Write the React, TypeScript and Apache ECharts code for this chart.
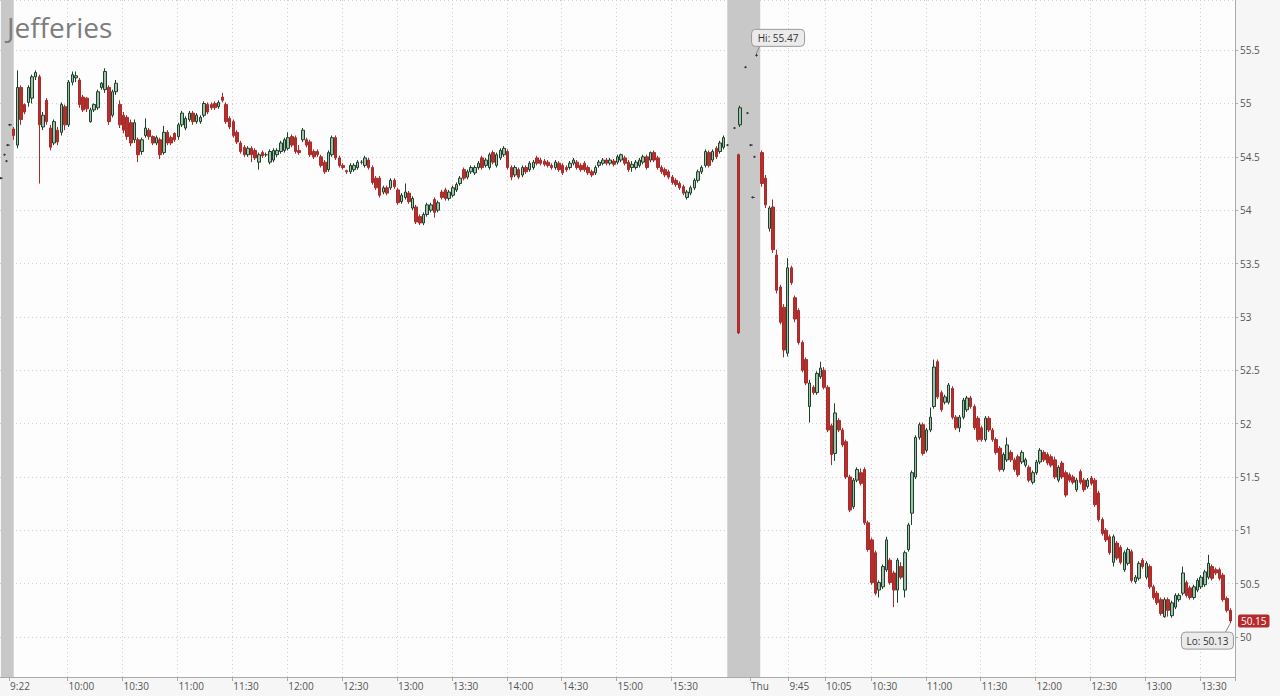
import React, { useEffect, useRef } from "react";
import * as echarts from "echarts";

// ---------- DATA (prices) ----------
// candle format: [open, close, low, high]
const day1PreMarket: [string, number, number, number, number][] = [
  ["9:17", 54.3, 54.3, 54.29, 54.31],
  ["9:19", 54.52, 54.52, 54.51, 54.53],
  ["9:20", 54.46, 54.46, 54.45, 54.47],
  ["9:21", 54.61, 54.61, 54.6, 54.62],
  ["9:22", 54.8, 54.8, 54.79, 54.81],
];

// Wednesday, 2-minute bars from 9:30
const day1Morning: number[][] = [
  [54.76,54.70,54.66,54.78],[54.61,55.15,54.58,55.31],[55.15,54.85,54.80,55.17],[54.99,54.92,54.90,55.00],
  [55.01,55.15,54.97,55.17],[55.05,55.25,55.00,55.27],[55.25,55.29,55.22,55.31],[55.25,54.80,54.25,55.27],
  [54.78,54.89,54.75,54.92],[55.03,54.83,54.80,55.05],[54.77,54.59,54.56,54.80],[54.63,54.83,54.61,54.85],
  [54.75,54.64,54.61,54.78],[54.73,54.99,54.70,55.01],[54.97,54.80,54.75,54.99],[54.80,55.20,54.78,55.22],
  [55.20,55.27,55.17,55.30],[55.24,55.26,55.20,55.30],[55.22,54.99,54.96,55.24],[55.06,54.94,54.92,55.08],
  [55.05,54.95,54.92,55.06],[54.83,54.94,54.82,54.96],[54.94,54.99,54.92,55.00],[54.96,55.11,54.94,55.13],
  [55.15,55.19,55.13,55.20],[55.13,55.30,55.10,55.33],[55.15,54.83,54.80,55.17],[54.89,55.11,54.87,55.13],
  [55.11,55.19,55.08,55.22],[54.99,54.80,54.77,55.03],[54.89,54.75,54.72,54.92],[54.87,54.69,54.66,54.89],
  [54.82,54.63,54.60,54.85],[54.66,54.82,54.63,54.85],[54.66,54.52,54.45,54.68],[54.55,54.66,54.52,54.68],
  [54.70,54.77,54.68,54.86],[54.75,54.69,54.66,54.77],[54.69,54.63,54.61,54.70],[54.63,54.68,54.61,54.70],
  [54.66,54.52,54.48,54.68],[54.54,54.73,54.52,54.79],[54.73,54.63,54.61,54.75],[54.68,54.63,54.61,54.70],
  [54.72,54.66,54.64,54.73],[54.69,54.80,54.66,54.82],[54.80,54.91,54.78,54.93],[54.77,54.86,54.75,54.88],
  [54.85,54.91,54.83,54.93],[54.91,54.83,54.80,54.93],[54.83,54.89,54.81,54.91],[54.83,54.87,54.81,54.89],
  [54.89,55.00,54.87,55.02],[54.99,54.92,54.90,55.01],[54.99,54.96,54.94,55.01],[55.00,54.96,54.94,55.02],
  [54.97,55.01,54.95,55.03],[55.06,55.03,55.01,55.10],[54.99,54.83,54.81,55.01],[54.86,54.78,54.76,54.88],
];
const day1Midday: number[][] = [
  [54.83,54.70,54.68,54.85],[54.73,54.64,54.62,54.75],[54.63,54.55,54.53,54.65],[54.59,54.52,54.50,54.61],
  [54.52,54.58,54.50,54.60],[54.58,54.52,54.45,54.60],[54.56,54.49,54.47,54.58],[54.45,54.52,54.38,54.54],
  [54.54,54.51,54.49,54.56],[54.52,54.52,54.50,54.54],[54.45,54.55,54.43,54.57],[54.47,54.56,54.45,54.58],
  [54.52,54.56,54.50,54.58],[54.55,54.63,54.53,54.65],[54.56,54.66,54.54,54.68],[54.58,54.68,54.56,54.73],
  [54.69,54.61,54.59,54.71],[54.68,54.55,54.53,54.70],[54.56,54.54,54.52,54.61],[54.66,54.75,54.64,54.77],
  [54.66,54.61,54.59,54.68],[54.64,54.52,54.50,54.66],[54.55,54.50,54.48,54.57],[54.55,54.52,54.50,54.57],
  [54.50,54.42,54.40,54.52],[54.45,54.36,54.34,54.47],[54.38,54.54,54.36,54.56],[54.52,54.68,54.50,54.70],
  [54.68,54.49,54.47,54.70],[54.49,54.42,54.40,54.51],[54.42,54.40,54.38,54.44],[54.37,54.36,54.34,54.38],
  [54.36,54.42,54.34,54.44],[54.38,54.42,54.36,54.44],[54.40,54.45,54.38,54.47],[54.45,54.45,54.43,54.47],
  [54.42,54.49,54.40,54.51],[54.47,54.40,54.38,54.49],[54.40,54.26,54.24,54.42],[54.30,54.21,54.19,54.32],
  [54.30,54.14,54.12,54.32],[54.17,54.21,54.15,54.23],[54.21,54.16,54.14,54.23],[54.21,54.28,54.19,54.30],
  [54.28,54.22,54.20,54.30],[54.19,54.07,54.05,54.21],[54.08,54.14,54.06,54.16],[54.12,54.17,54.10,54.25],
  [54.16,54.08,54.06,54.18],[54.02,54.11,54.00,54.13],[54.03,53.89,53.87,54.05],[53.94,53.88,53.86,53.96],
  [53.88,53.96,53.86,53.98],[53.96,54.05,53.94,54.07],[54.00,54.05,53.98,54.07],[54.10,53.98,53.93,54.12],
  [54.00,54.07,53.98,54.09],[54.17,54.12,54.10,54.19],[54.19,54.11,54.09,54.21],[54.11,54.17,54.09,54.19],
];
const day1Afternoon: number[][] = [
  [54.14,54.21,54.12,54.23],[54.19,54.24,54.17,54.26],[54.25,54.30,54.23,54.32],[54.38,54.30,54.28,54.40],
  [54.31,54.36,54.29,54.38],[54.36,54.40,54.34,54.42],[54.35,54.40,54.33,54.42],[54.40,54.44,54.38,54.46],
  [54.49,54.40,54.38,54.51],[54.42,54.47,54.40,54.49],[54.40,54.52,54.38,54.54],[54.54,54.45,54.43,54.56],
  [54.42,54.52,54.40,54.54],[54.49,54.56,54.47,54.58],[54.52,54.58,54.50,54.60],[54.55,54.40,54.38,54.57],
  [54.40,54.31,54.28,54.42],[54.33,54.40,54.31,54.42],[54.38,54.31,54.29,54.40],[54.33,54.40,54.31,54.42],
  [54.40,54.36,54.34,54.42],[54.38,54.44,54.36,54.46],[54.40,54.45,54.38,54.47],[54.49,54.44,54.42,54.51],
  [54.47,54.44,54.42,54.49],[54.46,54.43,54.41,54.48],[54.45,54.42,54.40,54.47],[54.42,54.40,54.38,54.44],
  [54.40,54.45,54.38,54.47],[54.44,54.38,54.36,54.46],[54.42,54.35,54.33,54.44],[54.40,54.38,54.36,54.42],
  [54.40,54.44,54.38,54.46],[54.44,54.47,54.42,54.49],[54.45,54.40,54.38,54.47],[54.42,54.38,54.36,54.44],
  [54.44,54.38,54.36,54.46],[54.40,54.35,54.33,54.42],[54.36,54.33,54.31,54.38],[54.35,54.40,54.33,54.42],
  [54.42,54.45,54.40,54.47],[54.44,54.47,54.42,54.49],[54.47,54.44,54.42,54.49],[54.44,54.47,54.42,54.49],
  [54.46,54.43,54.41,54.48],[54.45,54.50,54.43,54.52],[54.47,54.52,54.45,54.53],[54.49,54.44,54.42,54.51],
  [54.45,54.38,54.36,54.47],[54.40,54.43,54.36,54.46],[54.40,54.45,54.38,54.47],[54.42,54.47,54.40,54.49],
  [54.45,54.50,54.43,54.52],[54.50,54.40,54.38,54.52],[54.47,54.54,54.45,54.55],[54.54,54.47,54.45,54.56],
  [54.49,54.40,54.38,54.51],[54.40,54.36,54.34,54.42],[54.38,54.33,54.31,54.40],[54.36,54.31,54.29,54.38],
  [54.31,54.26,54.24,54.33],[54.28,54.24,54.22,54.30],[54.25,54.21,54.19,54.27],[54.22,54.16,54.14,54.24],
  [54.12,54.17,54.10,54.19],[54.16,54.21,54.14,54.23],[54.21,54.28,54.19,54.30],[54.28,54.36,54.26,54.38],
  [54.36,54.40,54.34,54.42],[54.42,54.55,54.40,54.57],[54.54,54.42,54.40,54.56],[54.47,54.55,54.45,54.57],
  [54.58,54.50,54.48,54.60],[54.55,54.63,54.53,54.65],[54.59,54.68,54.57,54.70],
];

// after-hours / pre-market prints (grey band)
const extendedHours: [string, number, number, number, number][] = [
  ["16:00", 54.61, 54.61, 54.6, 54.62],
  ["16:04", 54.77, 54.77, 54.76, 54.78],
  ["16:06", 54.52, 52.85, 52.84, 54.53],
  ["16:07", 54.8, 54.96, 54.78, 54.98],
  ["Thu 9:21", 55.34, 55.34, 55.33, 55.35],
  ["Thu 9:22", 54.91, 54.91, 54.9, 54.92],
  ["Thu 9:24", 54.61, 54.61, 54.6, 54.62],
  ["Thu 9:25", 54.12, 54.12, 54.11, 54.13],
  ["Thu 9:26", 54.5, 54.5, 54.49, 54.51],
  ["Thu 9:27", 55.45, 55.45, 55.44, 55.47],
];

// Thursday, 2-minute bars from 9:30
const day2Morning: number[][] = [
  [54.54,54.25,54.22,54.56],[54.30,54.05,54.02,54.33],[53.83,54.02,53.80,54.04],[54.03,53.63,53.60,54.10],
  [53.58,53.25,53.22,53.63],[53.28,52.95,52.93,53.30],[53.09,52.69,52.62,53.12],[52.66,53.46,52.63,53.55],
  [53.46,53.32,53.30,53.48],[53.18,52.98,52.95,53.20],[53.06,52.76,52.74,53.08],[52.76,52.50,52.48,52.78],
  [52.60,52.38,52.36,52.62],[52.16,52.38,52.01,52.41],[52.34,52.29,52.27,52.36],[52.29,52.47,52.27,52.49],
  [52.44,52.52,52.42,52.58],[52.50,52.34,52.32,52.53],[52.34,51.94,51.92,52.36],[51.98,51.71,51.61,52.00],
  [51.72,52.10,51.65,52.19],[52.03,51.94,51.92,52.05],[51.94,51.80,51.78,51.96],[51.83,51.50,51.48,51.85],
  [51.50,51.19,51.17,51.52],[51.22,51.47,51.20,51.49],[51.47,51.57,51.45,51.59],[51.54,51.44,51.42,51.58],
  [51.57,51.07,51.05,51.59],[51.07,50.82,50.80,51.09],[50.91,50.51,50.49,50.93],[50.79,50.41,50.39,50.81],
  [50.44,50.51,50.37,50.53],[50.47,50.66,50.45,50.68],[50.63,50.91,50.61,50.94],[50.72,50.51,50.49,50.74],
  [50.60,50.44,50.28,50.62],[50.44,50.72,50.32,50.74],[50.66,50.56,50.54,50.70],[50.44,50.79,50.37,50.81],
  [50.82,51.05,50.80,51.07],[51.16,51.54,51.05,51.56],[51.50,51.87,51.48,51.89],[51.87,51.99,51.85,52.01],
  [51.99,51.72,51.70,52.01],[51.75,51.94,51.73,51.96],[51.94,52.06,51.92,52.15],[52.16,52.53,52.14,52.60],
  [52.58,52.25,52.23,52.60],[52.29,52.13,52.11,52.31],[52.20,52.25,52.18,52.27],[52.20,52.36,52.18,52.38],
  [52.33,52.06,52.04,52.35],[52.06,51.96,51.94,52.08],[51.96,52.06,51.92,52.08],[52.06,52.22,52.04,52.24],
  [52.13,52.24,52.11,52.26],[52.24,52.16,52.14,52.26],[52.16,51.96,51.94,52.18],[52.05,51.85,51.83,52.07],
  [51.96,51.85,51.83,51.98],[51.85,52.05,51.83,52.07],[52.05,51.94,51.92,52.07],[51.94,51.85,51.83,51.96],
];
const day2Afternoon: number[][] = [
  [51.85,51.73,51.71,51.87],[51.77,51.57,51.55,51.79],[51.57,51.71,51.55,51.73],[51.66,51.80,51.64,51.87],
  [51.73,51.66,51.64,51.75],[51.66,51.57,51.55,51.68],[51.69,51.52,51.50,51.71],[51.64,51.73,51.62,51.75],
  [51.61,51.66,51.59,51.68],[51.59,51.47,51.45,51.61],[51.45,51.54,51.43,51.56],[51.54,51.64,51.52,51.66],
  [51.64,51.75,51.62,51.77],[51.73,51.66,51.64,51.75],[51.71,51.63,51.61,51.73],[51.69,51.61,51.59,51.71],
  [51.66,51.50,51.48,51.69],[51.47,51.59,51.45,51.61],[51.63,51.50,51.48,51.65],[51.54,51.33,51.31,51.56],
  [51.52,51.47,51.45,51.54],[51.50,51.45,51.43,51.52],[51.38,51.47,51.36,51.49],[51.55,51.45,51.43,51.57],
  [51.47,51.38,51.36,51.49],[51.41,51.47,51.39,51.49],[51.49,51.44,51.42,51.51],[51.47,51.24,51.22,51.49],
  [51.35,51.10,51.08,51.37],[51.10,50.97,50.95,51.12],[51.00,50.91,50.89,51.02],[50.94,50.79,50.77,50.96],
  [50.70,50.94,50.66,50.96],[50.88,50.74,50.72,50.90],[50.84,50.70,50.68,50.86],[50.63,50.79,50.61,50.81],
  [50.69,50.82,50.67,50.84],[50.80,50.53,50.51,50.82],[50.52,50.56,50.50,50.58],[50.55,50.69,50.53,50.71],
  [50.72,50.66,50.64,50.74],[50.56,50.69,50.54,50.71],[50.66,50.47,50.45,50.68],[50.47,50.37,50.35,50.49],
  [50.41,50.32,50.30,50.43],[50.35,50.22,50.20,50.37],[50.19,50.35,50.18,50.37],[50.35,50.25,50.19,50.37],
  [50.20,50.32,50.18,50.34],[50.28,50.39,50.26,50.41],[50.35,50.39,50.33,50.41],[50.41,50.60,50.39,50.66],
  [50.51,50.39,50.37,50.53],[50.46,50.37,50.35,50.48],[50.37,50.47,50.35,50.49],[50.44,50.53,50.42,50.55],
  [50.47,50.56,50.45,50.58],[50.49,50.61,50.47,50.63],[50.56,50.69,50.54,50.77],[50.66,50.55,50.53,50.68],
  [50.63,50.60,50.58,50.65],[50.63,50.55,50.53,50.65],[50.58,50.35,50.33,50.60],[50.36,50.25,50.23,50.38],
  [50.25,50.15,50.13,50.27],
];

const xTickCategories = ["9:22","10:00","10:30","11:00","11:30","12:00","12:30","13:00","13:30","14:00","14:30","15:00","15:30",
  "Thu 9:24","Thu 9:45","Thu 10:05","Thu 10:30","Thu 11:00","Thu 11:30","Thu 12:00","Thu 12:30","Thu 13:00","Thu 13:30"];
const xTickLabels = ["9:22","10:00","10:30","11:00","11:30","12:00","12:30","13:00","13:30","14:00","14:30","15:00","15:30",
  "Thu","9:45","10:05","10:30","11:00","11:30","12:00","12:30","13:00","13:30"];

const hiCategory = "Thu 9:27";
const hiValue = 55.47;
const loCategory = "Thu 13:46";
const loValue = 50.13;
const lastValue = 50.15;
const yMin = 49.625;
const yMax = 55.97;

// ---------- categories (one per minute, sessions compressed) ----------
const fmt = (t: number) => `${Math.floor(t / 60)}:${String(t % 60).padStart(2, "0")}`;
const categories: string[] = [];
for (let t = 557; t <= 563; t++) categories.push(fmt(t));
for (let t = 570; t < 960; t++) categories.push(fmt(t));
for (let t = 960; t <= 968; t++) categories.push(fmt(t));
for (let t = 560; t < 570; t++) categories.push("Thu " + fmt(t));
for (let t = 570; t <= 828; t++) categories.push("Thu " + fmt(t));

const byName = new Map<string, number[]>();
day1PreMarket.forEach(([n, ...v]) => byName.set(n, v));
[...day1Morning, ...day1Midday, ...day1Afternoon].forEach((v, k) => byName.set(fmt(570 + 2 * k), v));
extendedHours.forEach(([n, ...v]) => byName.set(n, v));
[...day2Morning, ...day2Afternoon].forEach((v, m) => byName.set("Thu " + fmt(570 + 2 * m), v));

const DOJI = "#3a3a3a";
const seriesData = categories.map((c) => {
  const v = byName.get(c);
  if (!v) return "-";
  if (v[0] === v[1]) return { value: v, itemStyle: { color: DOJI, color0: DOJI, borderColor: DOJI, borderColor0: DOJI } };
  return v;
});

const tickSet = new Set(xTickCategories);
const tickLabel = new Map(xTickCategories.map((c, i) => [c, xTickLabels[i]]));

const FONT = "Open Sans";

export default function App() {
  const ref = useRef<HTMLDivElement>(null);
  useEffect(() => {
    const chart = echarts.init(ref.current!, null, { renderer: "svg" });
    const isTick = (_i: number, v: string) => tickSet.has(v);
    chart.setOption({
      animation: false,
      backgroundColor: "#f6f6f6",
      grid: { left: 0, right: 45, top: 0, bottom: 19, show: true, backgroundColor: "#fdfdfd", borderWidth: 0 },
      xAxis: {
        type: "category",
        data: categories,
        boundaryGap: true,
        axisLine: { lineStyle: { color: "#aaaaaa" } },
        axisTick: { show: true, length: 4, interval: isTick, lineStyle: { color: "#aaaaaa" } },
        axisLabel: {
          interval: isTick,
          formatter: (v: string) => tickLabel.get(v) ?? "",
          align: "left",
          margin: 4,
          color: "#555555",
          fontFamily: FONT,
          fontSize: 10,
        },
        splitLine: { show: true, interval: isTick, lineStyle: { color: "#cfcfcf", type: [1, 3] } },
      },
      yAxis: {
        type: "value",
        position: "right",
        min: yMin,
        max: yMax,
        splitNumber: 12,
        axisLine: { show: true, lineStyle: { color: "#aaaaaa" } },
        axisTick: { show: true, length: 3, lineStyle: { color: "#aaaaaa" } },
        axisLabel: {
          showMinLabel: false,
          showMaxLabel: false,
          margin: 5,
          color: "#555555",
          fontFamily: FONT,
          fontSize: 10,
          formatter: (v: number) => (Math.abs(v * 2 - Math.round(v * 2)) < 1e-6 ? String(v) : ""),
        },
        splitLine: { show: true, lineStyle: { color: "#cfcfcf", type: [1, 3] } },
      },
      series: [
        {
          type: "candlestick",
          data: seriesData,
          large: false,
          progressive: 0,
          barWidth: 3,
          itemStyle: {
            color: "#a3bfab",
            color0: "#b3302f",
            borderColor: "#1b4329",
            borderColor0: "#a92b2a",
            borderWidth: 1,
          },
          markArea: {
            silent: true,
            itemStyle: { color: "#c8c8c8" },
            data: [
              [{ xAxis: "9:17" }, { xAxis: "9:30" }],
              [{ xAxis: "16:00" }, { xAxis: "Thu 9:29" }],
            ],
          },
          markLine: {
            silent: true,
            symbol: ["none", "none"],
            lineStyle: { color: "transparent", width: 0 },
            label: {
              position: "end",
              distance: 3,
              formatter: String(lastValue.toFixed(2)),
              backgroundColor: "#b52a2d",
              color: "#ffffff",
              fontFamily: FONT,
              fontSize: 10,
              padding: [2, 3, 1, 3],
              borderRadius: 2,
            },
            data: [{ yAxis: lastValue }],
          },
        },
      ],
    });

    const [hx, hy] = chart.convertToPixel({ gridIndex: 0 }, [categories.indexOf(hiCategory), hiValue]) as number[];
    const [lx, ly] = chart.convertToPixel({ gridIndex: 0 }, [categories.indexOf(loCategory), loValue]) as number[];
    chart.setOption({
      graphic: [
        {
          type: "text",
          left: 7,
          top: 13,
          z: 100,
          silent: true,
          style: { text: "Jefferies", fontSize: 28, fontFamily: FONT, fill: "#7d7d7d" },
        },
        { type: "line", z: 100, silent: true, shape: { x1: hx, y1: hy, x2: hx + 3, y2: hy - 7 }, style: { stroke: "#888", lineWidth: 1 } },
        { type: "rect", z: 100, silent: true, shape: { x: hx - 5, y: hy - 24, width: 53, height: 17, r: 4 }, style: { fill: "#ebebeb", stroke: "#9a9a9a", lineWidth: 1 } },
        { type: "text", z: 101, silent: true, x: hx + 21.5, y: hy - 15.5, style: { text: `Hi: ${hiValue.toFixed(2)}`, fill: "#333", fontSize: 10, fontFamily: FONT, align: "center", verticalAlign: "middle" } },
        { type: "line", z: 100, silent: true, shape: { x1: lx, y1: ly, x2: lx - 5, y2: ly + 9 }, style: { stroke: "#888", lineWidth: 1 } },
        { type: "rect", z: 100, silent: true, shape: { x: lx - 49, y: ly + 9, width: 52, height: 17, r: 4 }, style: { fill: "#ebebeb", stroke: "#9a9a9a", lineWidth: 1 } },
        { type: "text", z: 101, silent: true, x: lx - 23, y: ly + 17.5, style: { text: `Lo: ${loValue.toFixed(2)}`, fill: "#333", fontSize: 10, fontFamily: FONT, align: "center", verticalAlign: "middle" } },
      ],
    });
    return () => chart.dispose();
  }, []);
  return <div ref={ref} style={{ position: "fixed", left: 0, top: 0, width: 1280, height: 696 }} />;
}
